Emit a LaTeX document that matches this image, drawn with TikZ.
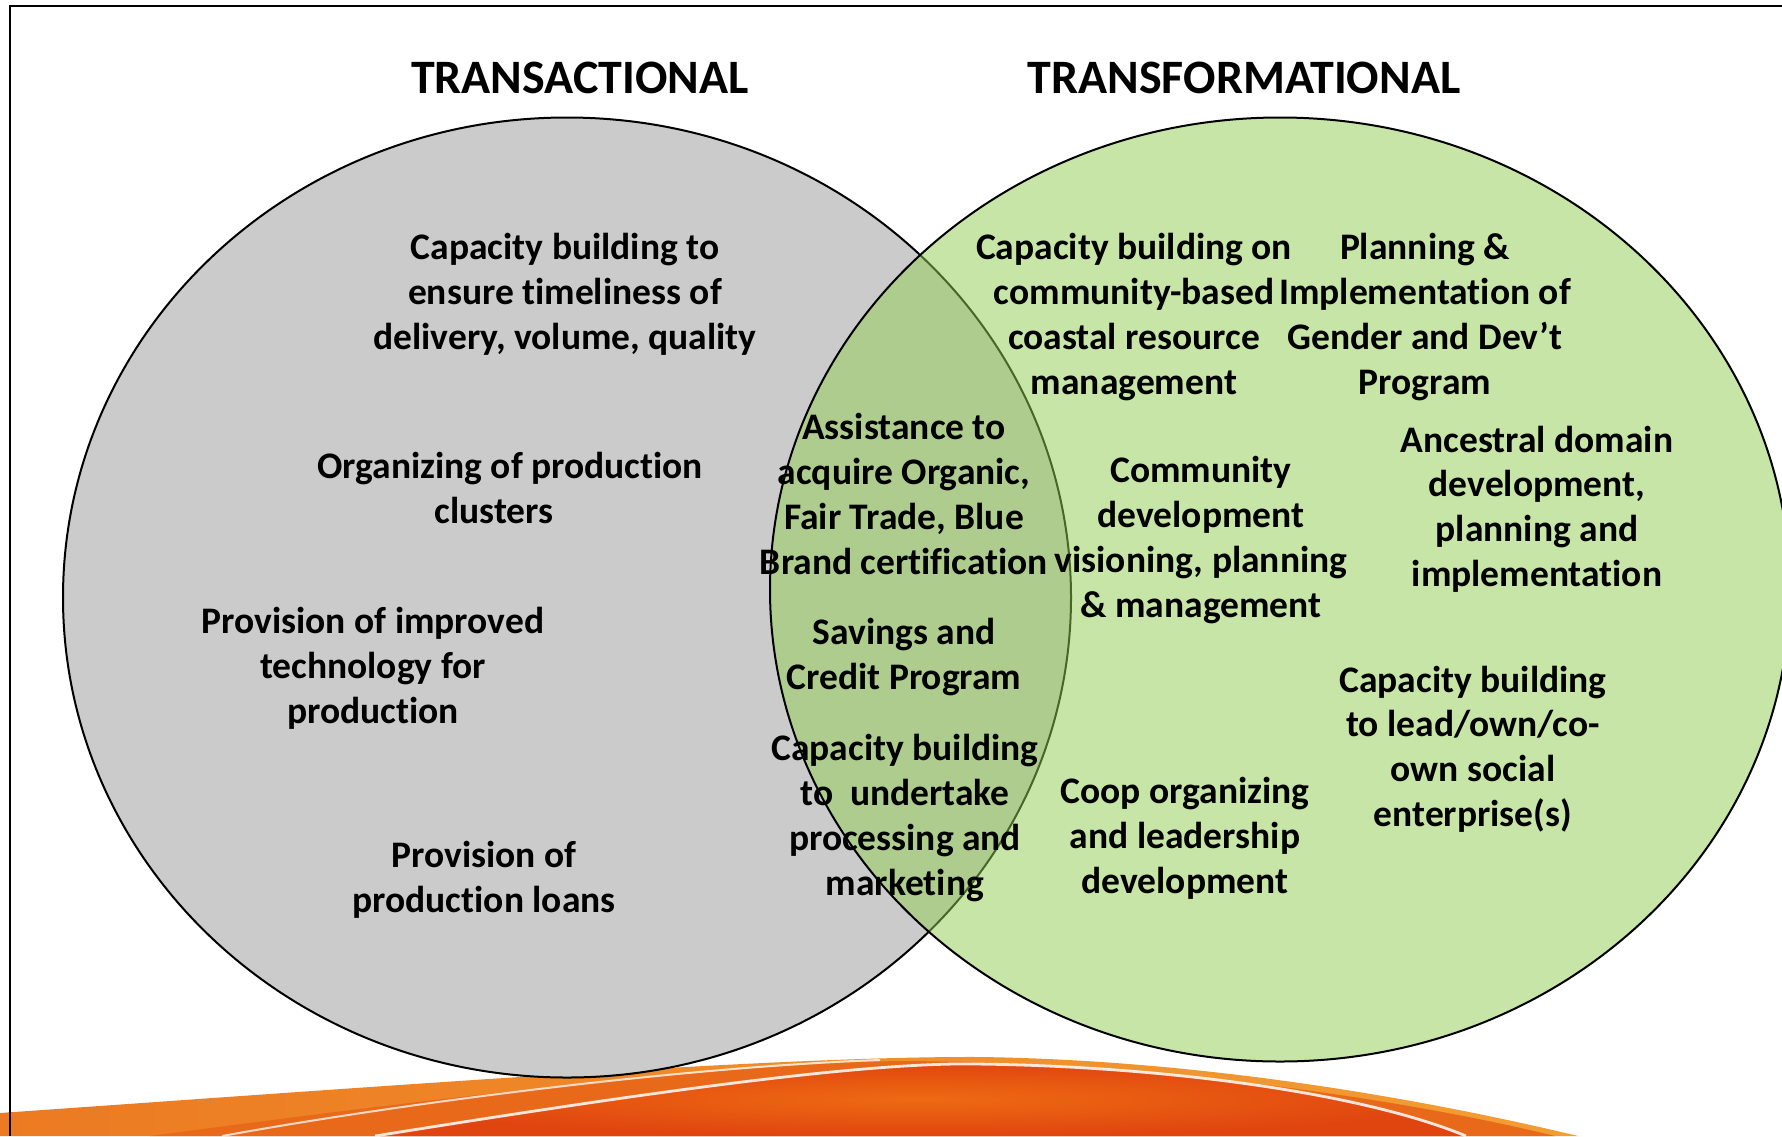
\documentclass[tikz,border=0pt]{standalone}
\usepackage{fontspec}
\setmainfont{Carlito}[Ligatures=NoCommon]
\usepackage{xcolor}

\definecolor{vennGray}{HTML}{CBCBCB}
\definecolor{vennGreen}{HTML}{91CD51}
\definecolor{swooshLight}{HTML}{F29E32}
\definecolor{swooshEdge}{HTML}{EC7A22}
\definecolor{swooshMid}{HTML}{E9691A}
\definecolor{swooshCore}{HTML}{EE6A12}
\definecolor{swooshRed}{HTML}{E04510}

\tikzset{
  lbl/.style={align=center, font=\bfseries\fontsize{18.75}{22.4}\selectfont},
  head/.style={font=\bfseries\fontsize{24}{28}\selectfont},
  rim/.style={line width=1pt}
}

\begin{document}
\begin{tikzpicture}[x=0.5pt, y=-0.5pt]
    \useasboundingbox (0,0) rectangle (1782,1136);
    \fill[white] (0,0) rectangle (1782,1136);

    % Orange swoosh along the bottom
    \shade[left color=swooshEdge, right color=swooshLight]
        (0,1113) .. controls (400,1085) and (780,1056) .. (980,1057)
        .. controls (1200,1060) and (1420,1098) .. (1578,1136) -- (0,1136) -- cycle;
    \fill[swooshMid] (150,1136) .. controls (420,1100) and (720,1064) .. (900,1061)
        .. controls (1150,1062) and (1400,1098) .. (1555,1136) -- cycle;
    \shade[inner color=swooshCore, outer color=swooshRed]
        (375,1136) .. controls (600,1100) and (850,1062) .. (975,1064)
        .. controls (1160,1066) and (1360,1092) .. (1466,1136) -- cycle;
    \draw[white, line width=1.4pt, opacity=0.85]
        (375,1136) .. controls (600,1100) and (850,1062) .. (975,1064)
        .. controls (1160,1066) and (1360,1092) .. (1466,1136);
    \draw[white, line width=1pt, opacity=0.75]
        (222,1136) .. controls (420,1100) and (700,1066) .. (880,1060);

    % Frame
    \draw[line width=1pt] (10,1136) -- (10,6) -- (1782,6);

    % Circles
    \draw[rim, fill=vennGray] (567,597.5) ellipse [x radius=504, y radius=480];
    \fill[vennGreen, opacity=0.5] (1280,589.5) ellipse [x radius=510, y radius=472];
    \draw[rim] (1280,589.5) ellipse [x radius=510, y radius=472];

    % Headings
    \node[head] (transac) at (580,78) {TRANSACTIONAL};
    \node[head] (transfo) at (1244,78) {TRANSFORMATIONAL};

    % Transactional side
    \node[lbl] (timely) at (565,294) {Capacity building to\\ensure timeliness of\\delivery, volume, quality};
    \node[lbl] (cluster) at (510,488) {Organizing of production\\clusters\hspace*{16pt}};
    \node[lbl] (techno) at (373,668) {Provision of improved\\technology for\\production};
    \node[lbl] (loans) at (484,880) {Provision of\\production loans};

    % Overlap
    \node[lbl] (certif) at (904,494) {Assistance to\\acquire Organic,\\Fair Trade, Blue\\Brand certification};
    \node[lbl] (savings) at (904,657) {Savings and\\Credit Program};
    \node[lbl] (process) at (905,818) {Capacity building\\to~~undertake\\processing and\\marketing};

    % Transformational side
    \node[lbl] (coastal) at (1134,317) {Capacity building on\\community-based\\coastal resource\\management};
    \node[lbl] (gender) at (1425,317) {Planning \&\\Implementation of\\Gender and Dev’t\\Program};
    \node[lbl] (vision) at (1201,540) {Community\\development\\visioning, planning\\\& management};
    \node[lbl] (domain) at (1537,509) {Ancestral domain\\development,\\planning and\\implementation};
    \node[lbl] (social) at (1473,749) {Capacity building\\to lead/own/co-\\own social\\enterprise(s)};
    \node[lbl] (coop) at (1185,838) {Coop organizing\\and leadership\\development};
\end{tikzpicture}
\end{document}
